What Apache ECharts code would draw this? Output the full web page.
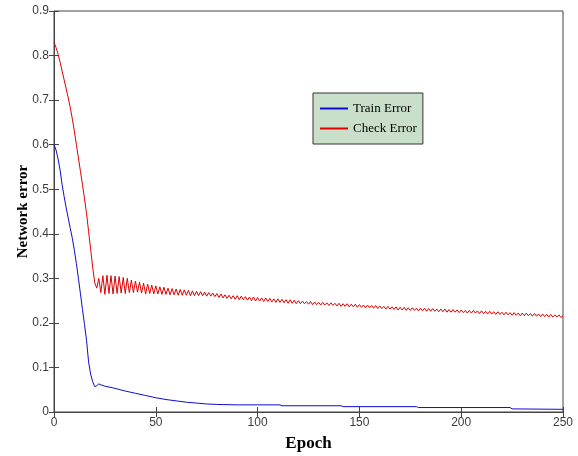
<!DOCTYPE html>
<html>
<head>
<meta charset="utf-8">
<script src="https://cdn.jsdelivr.net/npm/echarts@6/dist/echarts.min.js"></script>
<style>html,body{margin:0;padding:0;background:#fff}#c{width:578px;height:456px}</style>
</head>
<body>
<div id="c"></div>
<script>
// Tick labels
const xTicks = [0, 50, 100, 150, 200, 250];
const yTicks = [0, 0.1, 0.2, 0.3, 0.4, 0.5, 0.6, 0.7, 0.8, 0.9];

// Train Error (blue), epochs and values
const trainEpochs = [0,1,2,3,4,5,6,7,8,9,10,11,12,13,14,15,16,17,18,19,20,21,22,23,25,28,30,35,40,45,50,55,60,65,70,75,80,90,100,111,112,141,142,178,179,224,225,250];
const trainError = [0.600,0.588,0.568,0.543,0.510,0.483,0.458,0.435,0.412,0.390,0.363,0.333,0.300,0.265,0.230,0.196,0.160,0.112,0.085,0.068,0.057,0.059,0.063,0.061,0.058,0.055,0.053,0.047,0.042,0.037,0.032,0.028,0.025,0.022,0.020,0.018,0.017,0.016,0.016,0.016,0.014,0.014,0.012,0.012,0.010,0.010,0.007,0.006];

// Check Error (red), one value per epoch 0..250
const checkError = [
0.830,0.818,0.803,0.785,0.765,0.745,0.725,0.705,0.683,0.658,
0.630,0.600,0.570,0.540,0.510,0.478,0.445,0.405,0.365,0.325,
0.290,0.278,0.300,0.268,0.306,0.264,0.307,0.266,0.306,0.265,
0.305,0.266,0.304,0.267,0.302,0.266,0.300,0.268,0.296,0.268,
0.294,0.269,0.291,0.267,0.289,0.265,0.287,0.266,0.285,0.265,
0.283,0.265,0.281,0.264,0.280,0.264,0.278,0.263,0.277,0.263,
0.276,0.262,0.275,0.262,0.274,0.262,0.273,0.261,0.272,0.261,
0.271,0.261,0.270,0.261,0.269,0.260,0.268,0.260,0.267,0.259,
0.266,0.257,0.265,0.256,0.263,0.255,0.262,0.254,0.261,0.253,
0.261,0.252,0.260,0.252,0.259,0.251,0.258,0.250,0.258,0.249,
0.257,0.249,0.256,0.248,0.256,0.248,0.255,0.247,0.254,0.246,
0.254,0.246,0.253,0.245,0.252,0.244,0.252,0.244,0.251,0.243,
0.250,0.243,0.249,0.243,0.248,0.242,0.248,0.241,0.247,0.241,
0.246,0.240,0.246,0.240,0.245,0.239,0.245,0.239,0.244,0.238,
0.244,0.237,0.243,0.237,0.243,0.236,0.242,0.236,0.242,0.235,
0.241,0.235,0.240,0.234,0.240,0.234,0.239,0.233,0.239,0.232,
0.238,0.232,0.237,0.231,0.237,0.231,0.236,0.230,0.236,0.229,
0.235,0.229,0.235,0.228,0.234,0.228,0.234,0.228,0.233,0.227,
0.233,0.227,0.233,0.226,0.232,0.226,0.232,0.226,0.231,0.225,
0.231,0.225,0.231,0.224,0.230,0.224,0.230,0.224,0.229,0.223,
0.229,0.223,0.228,0.222,0.228,0.222,0.228,0.222,0.227,0.221,
0.227,0.221,0.226,0.220,0.226,0.220,0.225,0.219,0.225,0.219,
0.224,0.218,0.224,0.218,0.223,0.217,0.223,0.217,0.222,0.216,
0.222,0.216,0.222,0.216,0.221,0.215,0.221,0.215,0.220,0.214,
0.220,0.214,0.219,0.213,0.219,0.213,0.218,0.213,0.218,0.212,
0.216
];

const trainData = trainEpochs.map((e, i) => [e, trainError[i]]);
const checkData = checkError.map((v, i) => [i, v]);

const chart = echarts.init(document.getElementById('c'), null, {renderer: 'canvas'});
const labelFont = {color: '#3c3c3c', fontSize: 12, fontFamily: 'Liberation Sans, Arial, sans-serif'};
const option = {
  animation: false,
  backgroundColor: '#ffffff',
  grid: {left: 54, right: 15, top: 11, bottom: 44, outerBoundsMode: 'none', containLabel: false,
         show: true, borderColor: '#444', borderWidth: 1, backgroundColor: 'transparent'},
  legend: {
    left: 313, top: 93, orient: 'vertical',
    padding: [8, 6, 8, 7], itemGap: 5, itemWidth: 28, itemHeight: 2, icon: 'rect',
    backgroundColor: '#c9dfc9', borderColor: '#333', borderWidth: 1,
    textStyle: {fontFamily: 'Liberation Serif, Times New Roman, serif', fontSize: 13, color: '#000', lineHeight: 15},
    data: ['Train Error', 'Check Error']
  },
  xAxis: [{
    type: 'value', min: xTicks[0], max: xTicks[xTicks.length - 1], interval: 50,
    name: 'Epoch', nameLocation: 'middle', nameGap: 23, nameMoveOverlap: false,
    nameTextStyle: {fontFamily: 'Liberation Serif, Times New Roman, serif', fontWeight: 'bold', fontSize: 17, color: '#000'},
    axisLine: {show: true, lineStyle: {color: '#444', width: 1}},
    axisTick: {show: true, inside: true, length: 5, lineStyle: {color: '#444'}},
    axisLabel: Object.assign({margin: 5}, labelFont),
    splitLine: {show: false}
  }, {
    type: 'value', position: 'top', min: 0, max: 250, interval: 50,
    axisLine: {show: false}, axisTick: {show: true, inside: true, length: 5, lineStyle: {color: '#444'}},
    axisLabel: {show: false}, splitLine: {show: false}
  }],
  yAxis: [{
    type: 'value', min: 0, max: 0.9, interval: 0.1,
    name: 'Network error', nameLocation: 'middle', nameGap: 23, nameRotate: 90, nameMoveOverlap: false,
    nameTextStyle: {fontFamily: 'Liberation Serif, Times New Roman, serif', fontWeight: 'bold', fontSize: 15, color: '#000'},
    axisLine: {show: true, lineStyle: {color: '#444', width: 1}},
    axisTick: {show: true, inside: true, length: 5, lineStyle: {color: '#444'}},
    axisLabel: Object.assign({margin: 5, formatter: v => (v === 0 ? '0' : v.toFixed(1))}, labelFont),
    splitLine: {show: false}
  }, {
    type: 'value', position: 'right', min: 0, max: 0.9, interval: 0.1,
    axisLine: {show: false}, axisTick: {show: true, inside: true, length: 5, lineStyle: {color: '#444'}},
    axisLabel: {show: false}, splitLine: {show: false}
  }],
  series: [{
    name: 'Train Error', type: 'line', data: trainData, symbol: 'none', showSymbol: false,
    lineStyle: {color: '#0c0cd0', width: 1}, itemStyle: {color: '#0c0cd0'}, z: 3
  }, {
    name: 'Check Error', type: 'line', data: checkData, symbol: 'none', showSymbol: false,
    lineStyle: {color: '#e00000', width: 1}, itemStyle: {color: '#e00000'}, z: 2
  }]
};
chart.setOption(option);
</script>
</body>
</html>
